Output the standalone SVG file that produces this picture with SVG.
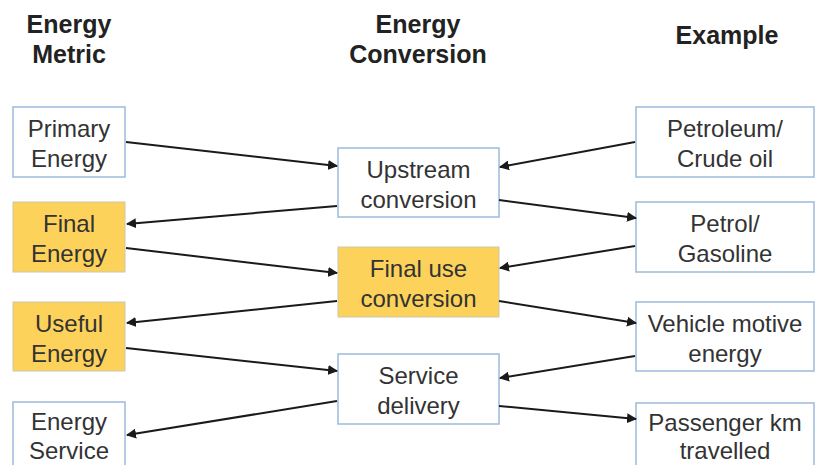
<svg xmlns="http://www.w3.org/2000/svg" width="816" height="465" viewBox="0 0 816 465">
<defs>
<style>
.box{fill:#fff;stroke:#9dbbdc;stroke-width:1.5}
.hl{fill:#fdd25b;stroke:#c9c7b0;stroke-width:1}
.t{font-family:"Liberation Sans",Arial,sans-serif;font-size:24px;fill:#333;text-anchor:middle}
.h{font-family:"Liberation Sans",Arial,sans-serif;font-size:25px;font-weight:bold;fill:#222;text-anchor:middle}
.c{stroke:#1a1a1a;stroke-width:2;fill:none;marker-end:url(#ah)}
</style>
<marker id="ah" viewBox="0 0 10 10" refX="9" refY="5" markerWidth="5" markerHeight="5" orient="auto" markerUnits="strokeWidth">
<path d="M0,0 L10,5 L0,10 z" fill="#1a1a1a"/>
</marker>
</defs>
<rect width="816" height="465" fill="#fff"/>
<g id="headers">
<text class="h" x="69" y="33">Energy</text>
<text class="h" x="69" y="63">Metric</text>
<text class="h" x="418" y="33">Energy</text>
<text class="h" x="418" y="63">Conversion</text>
<text class="h" x="727" y="44">Example</text>
</g>
<g id="primary"><rect class="box" x="13" y="107" width="112" height="70"/><text class="t" x="69" y="137">Primary</text><text class="t" x="69" y="167">Energy</text></g>
<g id="final"><rect class="hl" x="13" y="202" width="112" height="70"/><text class="t" x="69" y="232">Final</text><text class="t" x="69" y="262">Energy</text></g>
<g id="useful"><rect class="hl" x="13" y="302" width="112" height="69"/><text class="t" x="69" y="332">Useful</text><text class="t" x="69" y="362">Energy</text></g>
<g id="service"><rect class="box" x="13" y="402" width="112" height="70"/><text class="t" x="69" y="430">Energy</text><text class="t" x="69" y="459">Service</text></g>
<g id="upstream"><rect class="box" x="338" y="148" width="161" height="69"/><text class="t" x="418.5" y="178">Upstream</text><text class="t" x="418.5" y="208">conversion</text></g>
<g id="finaluse"><rect class="hl" x="338" y="247" width="161" height="70"/><text class="t" x="418.5" y="277">Final use</text><text class="t" x="418.5" y="307">conversion</text></g>
<g id="delivery"><rect class="box" x="338" y="354" width="161" height="70"/><text class="t" x="418.5" y="384">Service</text><text class="t" x="418.5" y="414">delivery</text></g>
<g id="petroleum"><rect class="box" x="636" y="107" width="178" height="70"/><text class="t" x="725" y="137">Petroleum/</text><text class="t" x="725" y="167">Crude oil</text></g>
<g id="petrol"><rect class="box" x="636" y="202" width="178" height="70"/><text class="t" x="725" y="232">Petrol/</text><text class="t" x="725" y="262">Gasoline</text></g>
<g id="vehicle"><rect class="box" x="636" y="302" width="178" height="69"/><text class="t" x="725" y="332">Vehicle motive</text><text class="t" x="725" y="362">energy</text></g>
<g id="passenger"><rect class="box" x="636" y="403" width="178" height="70"/><text class="t" x="725" y="431">Passenger km</text><text class="t" x="725" y="459">travelled</text></g>
<g id="connectors">
<line class="c" x1="126" y1="142" x2="337" y2="166"/>
<line class="c" x1="337" y1="206" x2="127" y2="224"/>
<line class="c" x1="126" y1="248" x2="337" y2="273"/>
<line class="c" x1="635" y1="142" x2="500" y2="167"/>
<line class="c" x1="499" y1="200" x2="636" y2="218"/>
<line class="c" x1="635" y1="246" x2="500" y2="268"/>
<line class="c" x1="337" y1="301" x2="127" y2="323"/>
<line class="c" x1="126" y1="348" x2="337" y2="371"/>
<line class="c" x1="337" y1="401" x2="127" y2="435"/>
<line class="c" x1="499" y1="301" x2="636" y2="323"/>
<line class="c" x1="635" y1="356" x2="500" y2="378"/>
<line class="c" x1="499" y1="406" x2="636" y2="419"/>
</g>
</svg>
